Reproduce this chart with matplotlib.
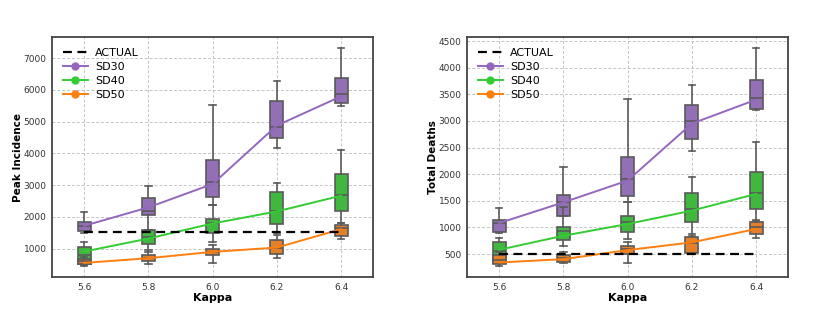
import matplotlib
matplotlib.use("Agg")
import matplotlib.pyplot as plt
from matplotlib.lines import Line2D

kappa = [5.6, 5.8, 6.0, 6.2, 6.4]
kappa_labels = ["5.6", "5.8", "6.0", "6.2", "6.4"]
series = ["SD30", "SD40", "SD50"]

# Peak incidence: box stats per kappa (whislo, q1, med, q3, whishi)
peak_sd30 = [(1486, 1550, 1697, 1824, 2161), (1600, 2066, 2192, 2583, 2984),
             (2372, 2635, 3099, 3806, 5537), (4165, 4492, 4840, 5653, 6286),
             (5500, 5600, 5885, 6380, 7330)]
peak_sd40 = [(480, 505, 800, 1043, 1201), (968, 1138, 1370, 1590, 1600),
             (1211, 1475, 1800, 1928, 2372), (1500, 1760, 2182, 2772, 3078),
             (1812, 2182, 2699, 3353, 4102)]
peak_sd50 = [(440, 510, 600, 670, 720), (506, 600, 716, 790, 905),
             (536, 799, 895, 979, 1105), (694, 821, 1032, 1264, 1420),
             (1295, 1390, 1633, 1739, 1791)]
peak_line_sd30 = [1717, 2298, 3036, 4880, 5800]
peak_line_sd40 = [905, 1316, 1791, 2171, 2667]
peak_line_sd50 = [548, 696, 895, 1032, 1612]
peak_actual = [1525, 1525, 1525, 1525, 1525]

# Total deaths
death_sd30 = [(888, 919, 1076, 1139, 1358), (1221, 1221, 1471, 1609, 2143),
              (1479, 1585, 1905, 2326, 3417), (2439, 2658, 3003, 3304, 3681),
              (3200, 3217, 3430, 3762, 4371)]
death_sd40 = [(330, 340, 560, 719, 800), (643, 763, 926, 1013, 1377),
              (776, 908, 1100, 1209, 1479), (870, 1109, 1347, 1654, 1943),
              (1146, 1353, 1648, 2037, 2608)]
death_sd50 = [(285, 320, 390, 480, 530), (324, 355, 424, 485, 543),
              (331, 500, 594, 657, 720), (500, 515, 700, 814, 840),
              (807, 876, 1000, 1096, 1127)]
death_line_sd30 = [1082, 1471, 1880, 2950, 3399]
death_line_sd40 = [581, 844, 1065, 1316, 1629]
death_line_sd50 = [342, 405, 575, 720, 971]
death_actual = [500, 500, 500, 500, 500]

line_colors = ["#9467bd", "#33cc33", "#ff7f0e"]
box_colors = ["#9370b6", "#40b840", "#e5802a"]

fig = plt.figure(figsize=(8.3, 3.11), dpi=100)
ax1 = fig.add_axes([0.0627, 0.109, 0.387, 0.772])
ax2 = fig.add_axes([0.5627, 0.109, 0.387, 0.772])


def draw(ax, boxes, lines, actual, ylabel, ylim, yticks):
    for stats_list, col in zip(boxes, box_colors):
        stats = [dict(whislo=s[0], q1=s[1], med=s[2], q3=s[3], whishi=s[4], fliers=[])
                 for s in stats_list]
        ax.bxp(stats, positions=kappa, widths=0.04, patch_artist=True,
               showfliers=False, manage_ticks=False,
               boxprops=dict(facecolor=col, edgecolor="#5a5a5a", linewidth=1.2),
               medianprops=dict(color="#5a5a5a", linewidth=1.2),
               whiskerprops=dict(color="#5a5a5a", linewidth=1.2),
               capprops=dict(color="#5a5a5a", linewidth=1.2),
               zorder=2)
    ax.plot(kappa, actual, color="black", linestyle=(0, (4, 2.5)), linewidth=1.6, zorder=4)
    for vals, col in zip(lines, line_colors):
        ax.plot(kappa, vals, color=col, linewidth=1.4, zorder=3)
    ax.set_xlim(5.5, 6.5)
    ax.set_ylim(*ylim)
    ax.set_xticks(kappa)
    ax.set_xticklabels(kappa_labels)
    ax.set_yticks(yticks)
    ax.tick_params(length=0, labelsize=6.5, colors="#333333", pad=4)
    ax.grid(True, linestyle=(0, (3, 2)), color="#c4c4c4", linewidth=0.7)
    ax.set_axisbelow(True)
    for sp in ax.spines.values():
        sp.set_color("#444444")
        sp.set_linewidth(1.3)
    ax.set_xlabel("Kappa", fontsize=8, fontweight="bold", labelpad=1)
    ax.set_ylabel(ylabel, fontsize=7.5, fontweight="bold", labelpad=0)
    handles = [Line2D([], [], color="black", linestyle=(0, (4, 2.5)), linewidth=1.6)]
    for col in line_colors:
        handles.append(Line2D([], [], color=col, linewidth=1.4, marker="o", markersize=5))
    ax.legend(handles, ["ACTUAL"] + series, loc="upper left", frameon=False,
              fontsize=8, handlelength=2.2, handletextpad=0.7,
              labelspacing=0.35, borderaxespad=0.6)


draw(ax1, [peak_sd30, peak_sd40, peak_sd50],
     [peak_line_sd30, peak_line_sd40, peak_line_sd50], peak_actual,
     "Peak Incidence", (100, 7670), [1000, 2000, 3000, 4000, 5000, 6000, 7000])
draw(ax2, [death_sd30, death_sd40, death_sd50],
     [death_line_sd30, death_line_sd40, death_line_sd50], death_actual,
     "Total Deaths", (68, 4575), [500, 1000, 1500, 2000, 2500, 3000, 3500, 4000, 4500])

fig.savefig("out.png", dpi=100)
